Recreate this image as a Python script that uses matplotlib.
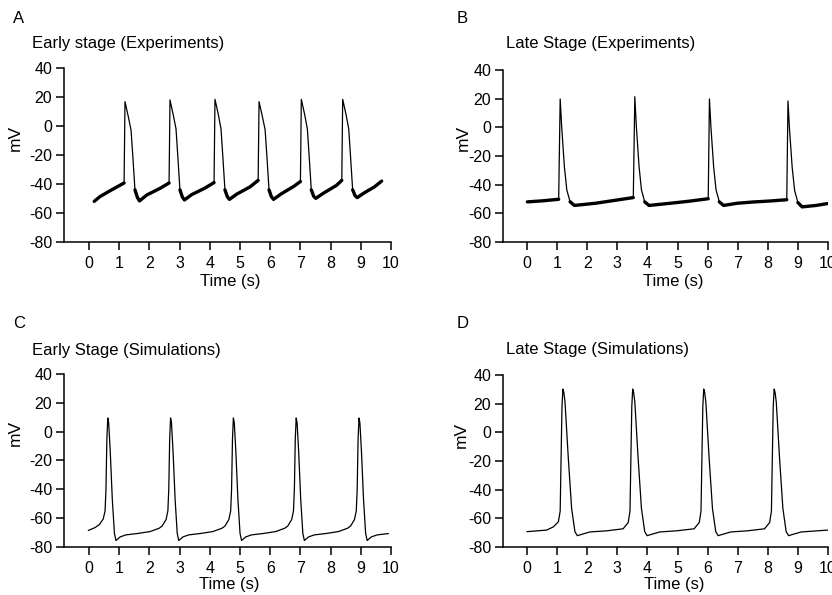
import numpy as np
import matplotlib
matplotlib.use("Agg")
import matplotlib.pyplot as plt

plt.rcParams['font.family'] = ['Liberation Sans', 'DejaVu Sans']
plt.rcParams['axes.unicode_minus'] = False

# A: early stage, experiments (time s, membrane potential mV)
a_t = [0.17, 0.36, 0.70, 1.16, 1.19, 1.30, 1.39, 1.45, 1.52, 1.60, 1.67, 1.91, 2.35, 2.65,
       2.68, 2.79, 2.88, 2.94, 3.01, 3.09, 3.16, 3.40, 3.84, 4.14,
       4.17, 4.28, 4.37, 4.43, 4.50, 4.58, 4.65, 4.89, 5.33, 5.60,
       5.63, 5.74, 5.83, 5.89, 5.96, 6.04, 6.11, 6.35, 6.79, 7.00,
       7.03, 7.14, 7.23, 7.29, 7.36, 7.44, 7.51, 7.75, 8.19, 8.37,
       8.40, 8.51, 8.60, 8.66, 8.73, 8.81, 8.88, 9.12, 9.45, 9.69]
a_v = [-52.0, -48.7, -44.6, -39.3, 16.8, 6.4, -2.8, -21.0, -44.0, -49.2, -51.7, -47.6, -43.0, -39.3,
       18.0, 7.5, -2.0, -21.0, -44.0, -49.0, -51.0, -47.3, -42.8, -39.0,
       18.4, 8.0, -2.0, -21.0, -44.0, -48.8, -50.6, -47.0, -42.0, -37.5,
       16.8, 6.5, -2.5, -21.0, -44.0, -48.8, -50.6, -47.0, -41.5, -38.3,
       18.4, 8.0, -2.0, -21.0, -44.0, -48.5, -49.9, -46.5, -41.0, -37.5,
       18.4, 8.0, -2.0, -21.0, -44.0, -48.0, -49.4, -46.0, -42.0, -38.0]

# B: late stage, experiments
b_t = [0.01, 0.50, 1.05, 1.10, 1.15, 1.24, 1.32, 1.43, 1.57, 2.26, 2.90, 3.53,
       3.58, 3.63, 3.72, 3.80, 3.91, 4.05, 4.75, 5.40, 6.02,
       6.06, 6.11, 6.20, 6.28, 6.39, 6.53, 6.97, 7.50, 8.07, 8.63,
       8.67, 8.72, 8.81, 8.89, 9.00, 9.14, 9.60, 9.98]
b_v = [-52.0, -51.3, -50.2, 19.8, 0.4, -27.5, -43.7, -51.9, -54.5, -53.0, -51.0, -49.0,
       21.4, 1.0, -27.0, -43.5, -52.0, -54.5, -53.0, -51.5, -49.8,
       19.8, 0.0, -27.5, -43.7, -52.0, -54.5, -53.0, -52.1, -51.4, -50.5,
       18.4, -1.0, -28.0, -44.0, -52.5, -55.5, -54.5, -53.2]

# C: early stage, simulations
c_t = [-0.02, 0.20, 0.34, 0.47, 0.53, 0.56, 0.59, 0.62, 0.65, 0.70, 0.77, 0.84, 0.89,
       1.03, 1.22, 1.62, 2.02, 2.32, 2.42, 2.55, 2.61, 2.64, 2.67, 2.70,
       2.73, 2.78, 2.85, 2.92, 2.97, 3.11, 3.30, 3.70, 4.10, 4.40, 4.50, 4.63, 4.69, 4.72, 4.75, 4.78,
       4.81, 4.86, 4.93, 5.00, 5.05, 5.19, 5.38, 5.78, 6.18, 6.48, 6.58, 6.71, 6.77, 6.80, 6.83, 6.86,
       6.89, 6.94, 7.01, 7.08, 7.13, 7.27, 7.46, 7.86, 8.26, 8.56, 8.66, 8.79, 8.85, 8.88, 8.91, 8.94,
       8.97, 9.02, 9.09, 9.16, 9.21, 9.35, 9.54, 9.91]
c_v = [-68.5, -66.5, -64.5, -60.5, -55.0, -40.0, -5.0, 9.5, 6.0, -13.0, -47.0, -70.5, -75.5,
       -73.0, -71.6, -70.6, -69.3, -67.0, -65.5, -61.0, -55.0, -40.0, -5.0, 9.5,
       6.0, -13.0, -47.0, -70.5, -75.5, -73.0, -71.6, -70.6, -69.3, -67.0, -65.5, -61.0, -55.0, -40.0, -5.0, 9.5,
       6.0, -13.0, -47.0, -70.5, -75.5, -73.0, -71.6, -70.6, -69.3, -67.0, -65.5, -61.0, -55.0, -40.0, -5.0, 9.5,
       6.0, -13.0, -47.0, -70.5, -75.5, -73.0, -71.6, -70.6, -69.3, -67.0, -65.5, -61.0, -55.0, -40.0, -5.0, 9.5,
       6.0, -13.0, -47.0, -70.5, -75.5, -73.0, -71.6, -70.7]

# D: late stage, simulations
d_t = [0.00, 0.65, 0.87, 1.04, 1.10, 1.13, 1.16, 1.19, 1.22, 1.26, 1.37, 1.48, 1.59, 1.67, 1.81, 2.09, 2.65,
       3.19, 3.36, 3.42, 3.45, 3.48, 3.51, 3.54, 3.58, 3.69, 3.80, 3.91, 3.99, 4.13, 4.41, 4.97,
       5.55, 5.72, 5.78, 5.81, 5.84, 5.87, 5.90, 5.94, 6.05, 6.16, 6.27, 6.35, 6.49, 6.77, 7.33,
       7.89, 8.06, 8.12, 8.15, 8.18, 8.21, 8.24, 8.28, 8.39, 8.50, 8.61, 8.69, 8.83, 9.11, 10.0]
d_v = [-69.3, -68.2, -66.0, -62.4, -55.0, -18.0, 18.0, 30.2, 28.0, 21.4, -18.0, -53.0, -69.3, -72.1, -71.2, -69.5, -68.7,
       -67.3, -63.0, -55.0, -18.0, 18.0, 30.2, 28.0, 21.4, -18.0, -53.0, -69.3, -72.1, -71.2, -69.5, -68.7,
       -67.3, -63.0, -55.0, -18.0, 18.0, 30.2, 28.0, 21.4, -18.0, -53.0, -69.3, -72.1, -71.2, -69.5, -68.7,
       -67.3, -63.0, -55.0, -18.0, 18.0, 30.2, 28.0, 21.4, -18.0, -53.0, -69.3, -72.1, -71.2, -69.5, -68.2]

titles = ["Early stage (Experiments)", "Late Stage (Experiments)",
          "Early Stage (Simulations)", "Late Stage (Simulations)"]
letters = ["A", "B", "C", "D"]
yticks = [40, 20, 0, -20, -40, -60, -80]
xticks = list(range(0, 11))

W, H = 832, 595
fig = plt.figure(figsize=(W / 100, H / 100), dpi=100)

# axes boxes in pixels: left, right, top, bottom
boxes = [(64, 391, 68, 242), (503, 828, 70, 242), (64, 391, 374, 547), (503, 828, 375, 547)]
xmins = [-0.83, -0.8, -0.83, -0.8]
traces = [(a_t, a_v, -35), (b_t, b_v, -45), (c_t, c_v, None), (d_t, d_v, None)]
title_pos = [(32, 48), (506, 48), (32, 355), (506, 354)]
letter_pos = [(13, 23), (457, 23), (13, 328), (457, 328)]
ylab = [(-0.126, 0.598), (-0.10, 0.605), (-0.125, 0.659), (-0.105, 0.651)]
xlab = [(0.508, -0.185), (0.525, -0.187), (0.505, -0.175), (0.526, -0.176)]

for i in range(4):
    l, r, t, b = boxes[i]
    ax = fig.add_axes([l / W, 1 - b / H, (r - l) / W, (b - t) / H])
    tt, vv, thick = traces[i]
    tt = np.array(tt)
    vv = np.array(vv)
    ax.plot(tt, vv, color="black", lw=0.9, solid_joinstyle="round")
    if thick is not None:
        # noisy baseline of the recordings looks thicker
        vb = np.where(vv < thick, vv, np.nan)
        ax.plot(tt, vb, color="black", lw=2.4, solid_capstyle="round")
    ax.set_xlim(xmins[i], 10)
    ax.set_ylim(-80, 40)
    ax.set_xticks(xticks)
    ax.set_yticks(yticks)
    for s in ["top", "right"]:
        ax.spines[s].set_visible(False)
    for s in ["left", "bottom"]:
        ax.spines[s].set_linewidth(1.1)
    ax.tick_params(axis="both", length=6, width=1.1, labelsize=11.5, colors="black")
    ax.tick_params(axis="y", pad=2.5)
    ax.tick_params(axis="x", pad=4)
    ax.set_ylabel("mV", fontsize=12.5)
    ax.set_xlabel("Time (s)", fontsize=12)
    ax.yaxis.set_label_coords(*ylab[i])
    ax.xaxis.set_label_coords(*xlab[i])
    fig.text(title_pos[i][0] / W, 1 - title_pos[i][1] / H, titles[i],
             fontsize=12, ha="left", va="baseline")
    fig.text(letter_pos[i][0] / W, 1 - letter_pos[i][1] / H, letters[i],
             fontsize=12, ha="left", va="baseline")

fig.savefig("out.png", dpi=100)
